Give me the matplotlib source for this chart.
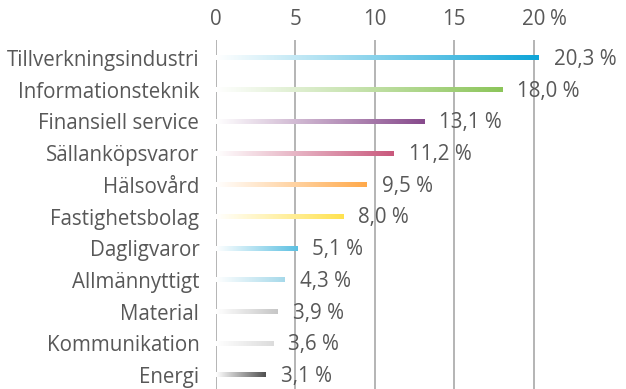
import numpy as np
import matplotlib.pyplot as plt
from matplotlib.colors import to_rgb

sectors = [
    "Tillverkningsindustri",
    "Informationsteknik",
    "Finansiell service",
    "Sällanköpsvaror",
    "Hälsovård",
    "Fastighetsbolag",
    "Dagligvaror",
    "Allmännyttigt",
    "Material",
    "Kommunikation",
    "Energi",
]
weights = [20.3, 18.0, 13.1, 11.2, 9.5, 8.0, 5.1, 4.3, 3.9, 3.6, 3.1]
colors = [
    "#0ea5d8", "#8cc55a", "#874a8c", "#c9587c", "#ffa94a", "#ffe24f",
    "#5cc0e2", "#a6d9ea", "#c6c6c6", "#dcdcdc", "#505050",
]
xticks = [0, 5, 10, 15, 20]

plt.rcParams["font.family"] = ["Open Sans", "DejaVu Sans"]
text_color = "#585858"
fs = 14.8

fig = plt.figure(figsize=(6.26, 3.89), dpi=100)
ax = fig.add_axes([216 / 626, 0, 410 / 626, 349 / 389])

bar_h = 0.15
for i, (v, c) in enumerate(zip(weights, colors)):
    # white-to-colour gradient along each bar
    rgb = np.array(to_rgb(c))
    t = np.linspace(0, 1, 256)[:, None]
    grad = (1 - t) * np.ones(3) + t * rgb
    ax.imshow(grad[None, :, :], extent=[0, v, i + bar_h / 2, i - bar_h / 2],
              aspect="auto", interpolation="bilinear", zorder=3)
    ax.annotate(f"{v:.1f} %".replace(".", ","), xy=(v, i), xytext=(11, -1),
                textcoords="offset points", ha="left", va="center",
                fontsize=fs, color=text_color, zorder=4)

ax.set_xlim(0, 25.8)
ax.set_ylim(10.44, -0.57)

for x in xticks:
    ax.axvline(x, color="#a8a8a8", lw=1.2, zorder=1)

ax.xaxis.tick_top()
ax.set_xticks(xticks)
ax.set_xticklabels([str(x) for x in xticks])
ax.tick_params(axis="x", length=0, pad=7, labelsize=fs, labelcolor=text_color)
ax.annotate("%", xy=(20, 1), xycoords=("data", "axes fraction"),
            xytext=(12, 7), textcoords="offset points", ha="left", va="bottom",
            fontsize=fs, color=text_color)

ax.set_yticks(range(len(sectors)))
ax.set_yticklabels(sectors)
ax.tick_params(axis="y", length=0, pad=12, labelsize=fs, labelcolor=text_color)

for s in ax.spines.values():
    s.set_visible(False)

fig.savefig("out.png", dpi=100)
